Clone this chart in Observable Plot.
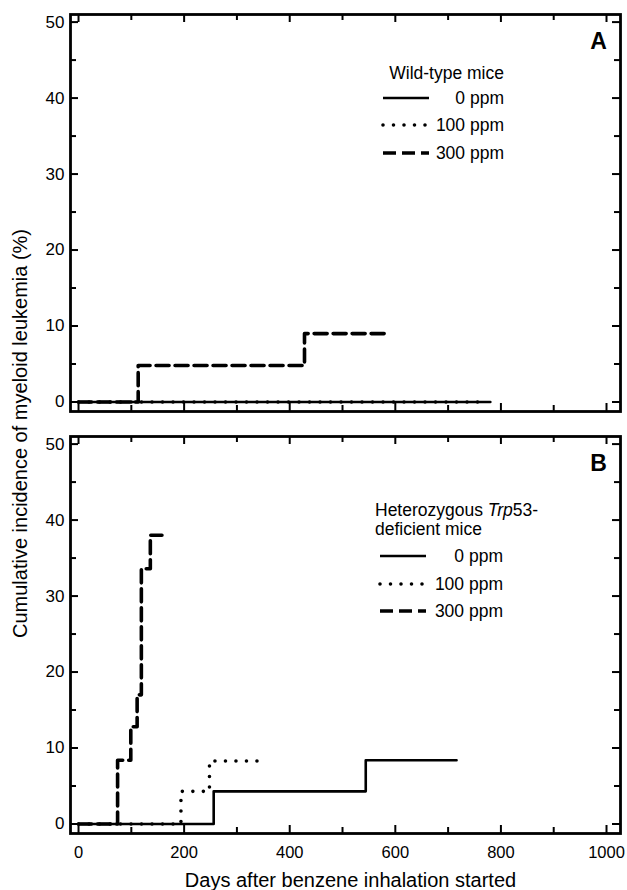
<!DOCTYPE html>
<html><head><meta charset="utf-8">
<script src="https://cdn.jsdelivr.net/npm/d3@7"></script>
<script src="https://cdn.jsdelivr.net/npm/@observablehq/plot@0.6"></script>
<style>
html,body{margin:0;padding:0;background:#fff;}
#chart{position:relative;width:627px;height:890px;}
#chart svg{position:absolute;left:0;top:0;}
</style></head><body><div id="chart"></div>
<script>
// ---------- data ----------
const panels = ["A", "B"];
const doses = ["0 ppm", "100 ppm", "300 ppm"];
const legendTitleA = ["Wild-type mice"];
const legendTitleB = ["Heterozygous ", "Trp", "53-", "deficient mice"];
const xTitle = "Days after benzene inhalation started";
const yTitle = "Cumulative incidence of myeloid leukemia (%)";

// Panel A: wild-type mice
const wt0Days = [0, 780];
const wt0Vals = [0, 0];
const wt100Days = [0, 760];
const wt100Vals = [0, 0];
const wt300Days = [0, 113, 428, 584];
const wt300Vals = [0, 4.8, 9.0, 9.0];

// Panel B: heterozygous Trp53-deficient mice
const het0Days = [0, 256, 544, 716];
const het0Vals = [0, 4.3, 8.4, 8.4];
const het100Days = [0, 194, 248, 343];
const het100Vals = [0, 4.3, 8.3, 8.3];
const het300Days = [0, 74, 99, 111, 119, 136, 158];
const het300Vals = [0, 8.4, 12.8, 17.0, 33.6, 38.0, 38.0];

const xTicks = [0, 200, 400, 600, 800, 1000];
const xMinor = [100, 300, 500, 700, 900];
const yTicks = [0, 10, 20, 30, 40, 50];
const yMinor = [5, 15, 25, 35, 45];

// ---------- build table ----------
function series(panel, dose, days, vals) {
  return days.map((d, i) => ({panel, dose, day: d, value: vals[i]}));
}
const rows = [
  ...series("A", "0 ppm", wt0Days, wt0Vals),
  ...series("A", "100 ppm", wt100Days, wt100Vals),
  ...series("A", "300 ppm", wt300Days, wt300Vals),
  ...series("B", "0 ppm", het0Days, het0Vals),
  ...series("B", "100 ppm", het100Days, het100Vals),
  ...series("B", "300 ppm", het300Days, het300Vals)
];

// ---------- styles ----------
const doseStyle = {
  "0 ppm":   {strokeWidth: 2.6},
  "100 ppm": {strokeWidth: 3.6, strokeDasharray: "0,10.5", strokeLinecap: "round"},
  "300 ppm": {strokeWidth: 3.6, strokeDasharray: "13,6"}
};
const FONT = "'Liberation Sans', Arial, Helvetica, sans-serif";
const W = 627, H = 890, ML = 70, MR = 7, MT = 14, MB = 57;
const innerW = W - ML - MR;
const bandH = 397;
const gap = 25;

const chart = Plot.plot({
  width: W, height: H,
  marginLeft: ML, marginRight: MR, marginTop: MT, marginBottom: MB,
  style: {fontFamily: FONT, fontSize: "17px", color: "black", background: "white"},
  x: {domain: [-15.2, 1026.5], label: null},
  y: {domain: [-1.25, 51.0], label: null},
  fy: {domain: panels, paddingInner: gap / (bandH + gap), paddingOuter: 0, axis: null, label: null},
  marks: [
    // data lines
    ...doses.map(dose => Plot.line(rows.filter(r => r.dose === dose), {
      x: "day", y: "value", fy: "panel", z: "panel",
      curve: "step-after", stroke: "black", ...doseStyle[dose]
    })),
    // inward ticks on all four sides
    Plot.tickY(yTicks, {y: d => d, insetRight: innerW - 8, strokeWidth: 2}),
    Plot.tickY(yTicks, {y: d => d, insetLeft: innerW - 8, strokeWidth: 2}),
    Plot.tickY(yMinor, {y: d => d, insetRight: innerW - 6, strokeWidth: 2}),
    Plot.tickY(yMinor, {y: d => d, insetLeft: innerW - 6, strokeWidth: 2}),
    Plot.tickX(xTicks, {x: d => d, insetBottom: bandH - 8, strokeWidth: 2}),
    Plot.tickX(xTicks, {x: d => d, insetTop: bandH - 8, strokeWidth: 2}),
    Plot.tickX(xMinor, {x: d => d, insetBottom: bandH - 6, strokeWidth: 2}),
    Plot.tickX(xMinor, {x: d => d, insetTop: bandH - 6, strokeWidth: 2}),
    Plot.frame({stroke: "black", strokeWidth: 2.8}),
    // axes labels
    Plot.axisY(yTicks, {tickSize: 0, tickPadding: 6, fontSize: 17, label: null, tickFormat: d => String(d)}),
    Plot.axisX(xTicks, {tickSize: 0, tickPadding: 13, fontSize: 16.5, label: null, tickFormat: d => String(d)}),
    // panel letters
    Plot.text(panels, {fy: d => d, text: d => d, frameAnchor: "top-right", dx: -22, dy: 27,
      textAnchor: "middle", lineAnchor: "middle", fontSize: 23, fontWeight: "bold"}),
    // axis titles
    Plot.text([xTitle], {fy: () => "B", text: d => d, frameAnchor: "bottom", dx: 5, dy: 47,
      textAnchor: "middle", lineAnchor: "middle", fontSize: 20}),
    Plot.text([yTitle], {fy: () => "A", text: d => d, frameAnchor: "bottom-left", dx: -50, dy: 22,
      textAnchor: "middle", lineAnchor: "middle", rotate: -90, fontSize: 20})
  ]
});

const host = document.getElementById("chart");
host.appendChild(chart);

// ---------- legends (overlay) ----------
const fy = chart.scale("fy");
const topA = fy.apply("A");
const topB = fy.apply("B");
const svg = d3.select(host).append("svg")
  .attr("width", W).attr("height", H)
  .style("font-family", FONT).style("font-size", "17.5px");

function legendRows(top, offsets, x1, x2, textEnd) {
  doses.forEach((dose, i) => {
    const y = top + offsets[i];
    const st = doseStyle[dose];
    svg.append("line").attr("x1", x1).attr("x2", x2).attr("y1", y).attr("y2", y)
      .attr("stroke", "black").attr("stroke-width", st.strokeWidth)
      .attr("stroke-dasharray", st.strokeDasharray || null)
      .attr("stroke-linecap", st.strokeLinecap || null);
    svg.append("text").attr("x", textEnd).attr("y", y).attr("dy", "0.35em")
      .attr("text-anchor", "end").text(dose);
  });
}

// Panel A legend
svg.append("text").attr("x", 504).attr("y", topA + 59).attr("dy", "0.35em")
  .attr("text-anchor", "end").text(legendTitleA[0]);
legendRows(topA, [84, 111, 139], 383, 429, 504);

// Panel B legend
const tB = svg.append("text").attr("x", 375).attr("y", topB + 74).attr("dy", "0.35em");
tB.append("tspan").text(legendTitleB[0]);
tB.append("tspan").attr("font-style", "italic").text(legendTitleB[1]);
tB.append("tspan").text(legendTitleB[2]);
svg.append("text").attr("x", 375).attr("y", topB + 93).attr("dy", "0.35em").text(legendTitleB[3]);
legendRows(topB, [120, 148, 175], 380, 426, 503);
</script>
</body></html>
